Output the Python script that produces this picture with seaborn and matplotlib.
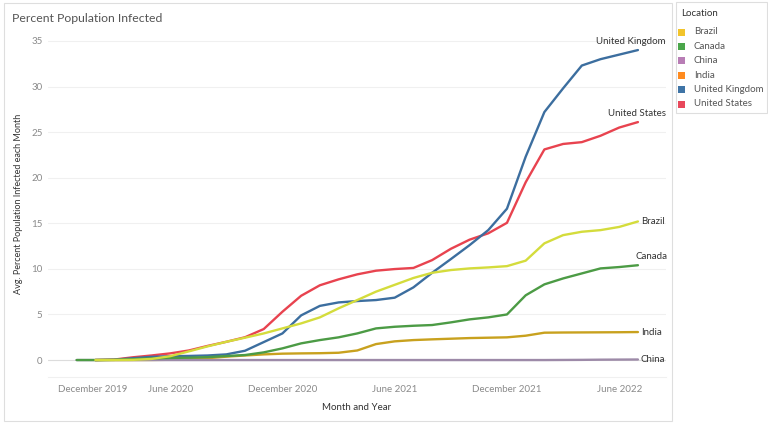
import numpy as np
import pandas as pd
import matplotlib
matplotlib.use("Agg")
import matplotlib.pyplot as plt
import seaborn as sns
from matplotlib.patches import Rectangle

# ---------------- data ----------------
countries = ["Brazil", "Canada", "China", "India", "United Kingdom", "United States"]
legend_colors = ["#f2c42b", "#4aa64a", "#b87db5", "#ff8b1f", "#3f74a6", "#e8485b"]
line_colors = ["#d4dc3c", "#4c9b45", "#9d8aa8", "#c8a11e", "#3c6e9f", "#e8434f"]

# month index: 0 = December 2019, 1 = January 2020, ... 31 = July 2022
start_month = [2, 1, 1, 2, 2, 2]

brazil = [0.0, 0.0, 0.02, 0.12, 0.42, 0.95, 1.5, 2.0, 2.45, 2.92, 3.47, 4.02, 4.68, 5.67,
          6.58, 7.5, 8.25, 9.0, 9.57, 9.87, 10.05, 10.16, 10.3, 10.9, 12.8, 13.7, 14.07,
          14.25, 14.6, 15.2]
canada = [0.0, 0.0, 0.02, 0.1, 0.18, 0.23, 0.26, 0.32, 0.44, 0.55, 0.84, 1.28, 1.83, 2.19,
          2.49, 2.92, 3.47, 3.65, 3.76, 3.84, 4.13, 4.46, 4.68, 5.0, 7.1, 8.3, 8.95, 9.5,
          10.05, 10.2, 10.4]
china = [0.0, 0.0, 0.0, 0.0, 0.0, 0.0, 0.0, 0.0, 0.0, 0.0, 0.0, 0.0, 0.0, 0.0, 0.0, 0.0,
         0.0, 0.0, 0.0, 0.0, 0.0, 0.0, 0.0, 0.0, 0.0, 0.0, 0.01, 0.02, 0.04, 0.05, 0.06]
india = [0.0, 0.0, 0.0, 0.01, 0.03, 0.08, 0.2, 0.37, 0.5, 0.62, 0.7, 0.73, 0.75, 0.8, 1.05,
         1.75, 2.05, 2.19, 2.27, 2.34, 2.41, 2.45, 2.49, 2.67, 3.0, 3.02, 3.03, 3.04, 3.05,
         3.07]
united_kingdom = [0.0, 0.03, 0.2, 0.35, 0.42, 0.45, 0.5, 0.62, 1.02, 1.97, 2.92, 4.9, 5.94,
                  6.32, 6.47, 6.58, 6.84, 7.97, 9.57, 11.07, 12.6, 14.25, 16.6, 22.3, 27.2,
                  29.8, 32.3, 33.0, 33.5, 34.0]
united_states = [0.0, 0.05, 0.3, 0.5, 0.73, 1.05, 1.55, 2.0, 2.5, 3.4, 5.3, 7.05, 8.2, 8.85,
                 9.4, 9.8, 9.98, 10.1, 10.96, 12.2, 13.2, 13.9, 15.05, 19.5, 23.1, 23.7,
                 23.9, 24.6, 25.5, 26.1]
series = [brazil, canada, china, india, united_kingdom, united_states]

tick_months = [0, 6, 12, 18, 24, 30]
tick_labels = ["December 2019", "June 2020", "December 2020", "June 2021",
               "December 2021", "June 2022"]
y_ticks = [0, 5, 10, 15, 20, 25, 30, 35]

rows = []
for name, start, vals in zip(countries, start_month, series):
    for i, v in enumerate(vals):
        rows.append({"Location": name, "Month": start + i, "Value": v})
df = pd.DataFrame(rows)

# ---------------- style ----------------
sns.set_style("white")
plt.rcParams["font.family"] = ["Lato", "DejaVu Sans"]

W, H = 768, 424
fig = plt.figure(figsize=(W / 100, H / 100), dpi=100)
ax = fig.add_axes([48 / W, 1 - 377 / H, (666 - 48) / W, (377 - 30) / H])

palette = dict(zip(countries, line_colors))
sns.lineplot(data=df, x="Month", y="Value", hue="Location",
             hue_order=countries[::-1], palette=palette,
             linewidth=1.7, legend=False, ax=ax, zorder=3)

ax.set_xlim(-0.53, 32.5)
ax.set_ylim(-1.86, 36.2)
ax.set_yticks(y_ticks)
ax.set_yticklabels([str(t) for t in y_ticks])
ax.set_xticks(tick_months)
ax.set_xticklabels(tick_labels)
ax.xaxis.get_majorticklabels()[0].set_horizontalalignment("left")

ax.tick_params(axis="both", length=0, labelsize=7, labelcolor="#8a8a8a")
ax.tick_params(axis="y", pad=4)
ax.tick_params(axis="x", pad=6)

ax.grid(axis="y", color="#f0f0f0", linewidth=0.8, zorder=0)
ax.grid(axis="x", visible=False)
ax.axhline(0, color="#dcdcdc", linewidth=0.8, zorder=1)
for s in ["left", "right", "top"]:
    ax.spines[s].set_visible(False)
ax.spines["bottom"].set_color("#f0f0f0")
ax.spines["bottom"].set_linewidth(0.8)

ax.set_xlabel("Month and Year", fontsize=7, color="#333333", labelpad=6)
ax.set_ylabel("Avg. Percent Population Infected each Month", fontsize=6.5,
              color="#333333", labelpad=6)

# end-of-line labels
label_offsets = {"Brazil": (3, 0, "left"), "Canada": (-2, 9, "left"),
                 "China": (3, 0, "left"), "India": (3, 0, "left"),
                 "United Kingdom": (28, 9, "right"), "United States": (28, 9, "right")}
for name, start, vals in zip(countries, start_month, series):
    dx, dy, ha = label_offsets[name]
    ax.annotate(name, xy=(start + len(vals) - 1, vals[-1]), xytext=(dx, dy),
                textcoords="offset pixels", ha=ha, va="center", fontsize=7,
                color="#333333", annotation_clip=False)

# title
fig.text(12 / W, 1 - 18 / H, "Percent Population Infected", fontsize=8.8,
         color="#555555", ha="left", va="center")

# outer chart border
fig.add_artist(Rectangle((4 / W, 1 - 421 / H), (672 - 4) / W, (421 - 3) / H,
                         transform=fig.transFigure, fill=False,
                         edgecolor="#dedede", linewidth=0.8))

# legend panel
fig.add_artist(Rectangle((676 / W, 1 - 113 / H), (767 - 676) / W, (113 - 2) / H,
                         transform=fig.transFigure, fill=False,
                         edgecolor="#dedede", linewidth=0.8))
fig.text(681 / W, 1 - 13 / H, "Location", fontsize=7, color="#333333",
         ha="left", va="center")
for i, (name, col) in enumerate(zip(countries, legend_colors)):
    yc = 32 + i * 14.4
    fig.add_artist(Rectangle((678 / W, 1 - (yc + 3.5) / H), 7 / W, 7 / H,
                             transform=fig.transFigure, facecolor=col,
                             edgecolor="none"))
    fig.text(694 / W, 1 - yc / H, name, fontsize=7, color="#555555",
             ha="left", va="center")

fig.savefig("out.png", dpi=100, facecolor="white")
